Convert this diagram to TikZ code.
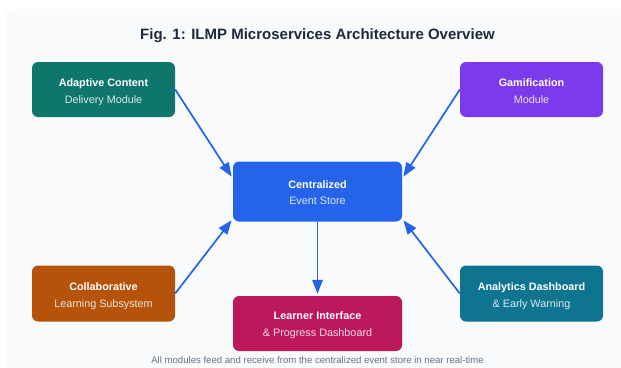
\documentclass[tikz,border=0pt]{standalone}
\usepackage{fontspec}
\setmainfont{Liberation Sans}
\usetikzlibrary{arrows.meta,calc}
\definecolor{panelbg}{HTML}{F8FAFC}
\definecolor{titlecol}{HTML}{1E293B}
\definecolor{footcol}{HTML}{64748B}
\definecolor{tealc}{HTML}{0F766E}
\definecolor{violetc}{HTML}{7C3AED}
\definecolor{bluec}{HTML}{2563EB}
\definecolor{amberc}{HTML}{B45309}
\definecolor{cyanc}{HTML}{0E7490}
\definecolor{pinkc}{HTML}{BE185D}
\tikzset{
  modbox/.style={rounded corners=6pt, minimum width=143pt, minimum height=55pt, inner sep=0pt, align=center, text=white, text height=29pt, text depth=2pt, font=\fontsize{10.8}{17}\selectfont},
  wide/.style={minimum width=169pt},
  flow/.style={draw=bluec, line width=1.7pt, -{Triangle[length=14pt,width=10.5pt]}, shorten >=2pt}
}
\newcommand{\twolines}[3]{\textbf{#1}\\\textcolor{white!85!#3}{#2}}
\begin{document}
\begin{tikzpicture}[x=1pt,y=-1pt]
  \useasboundingbox (0,0) rectangle (621,367);
  \fill[white] (0,0) rectangle (621,367);
  \fill[panelbg, rounded corners=8pt] (5,9) rectangle (640,390);
  \node[text=titlecol, font=\fontsize{15}{18}\selectfont\bfseries] (title) at (317.5,35.5) {Fig. 1: ILMP Microservices Architecture Overview};
  \node[modbox, fill=tealc] (adaptive) at (103.5,89.5) {\twolines{Adaptive Content}{Delivery Module}{tealc}};
  \node[modbox, fill=violetc] (gamif) at (531.5,89.5) {\twolines{Gamification}{Module}{violetc}};
  \node[modbox, wide, minimum height=60pt, fill=bluec, font=\fontsize{10.8}{16}\selectfont, text height=27pt] (central) at (317.5,191.5) {\twolines{Centralized}{Event Store}{bluec}};
  \node[modbox, minimum height=56pt, fill=amberc] (collab) at (103.5,293.5) {\twolines{Collaborative}{Learning Subsystem}{amberc}};
  \node[modbox, minimum height=56pt, fill=cyanc] (analytics) at (531.5,293.5) {\twolines{Analytics Dashboard}{\& Early Warning}{cyanc}};
  \node[modbox, wide, fill=pinkc, text height=27pt] (learner) at (317.5,323.5) {\twolines{Learner Interface}{\& Progress Dashboard}{pinkc}};
  \node[text=footcol, font=\fontsize{9.6}{11}\selectfont] (foot) at (317.5,360) {All modules feed and receive from the centralized event store in near real-time};
  \coordinate (c1) at ($(central.north west)+(0,17)$);
  \coordinate (c2) at ($(central.north east)+(0,17)$);
  \coordinate (c3) at ($(central.south west)+(0,-3)$);
  \coordinate (c4) at ($(central.south east)+(0,-3)$);
  \draw[flow] (adaptive.east) -- (c1);
  \draw[flow] (gamif.west) -- (c2);
  \draw[flow] (collab.east) -- (c3);
  \draw[flow] (analytics.west) -- (c4);
  \draw[flow] (central.south) -- (learner.north);
\end{tikzpicture}
\end{document}
